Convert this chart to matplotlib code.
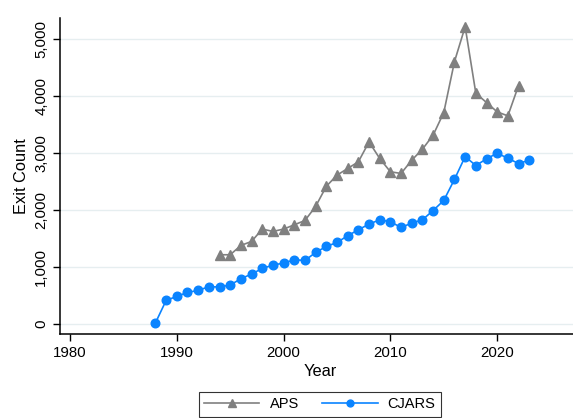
import matplotlib.pyplot as plt
from matplotlib.ticker import FuncFormatter

plt.rcParams['font.family'] = ['Liberation Sans', 'DejaVu Sans']

# CJARS exits per year
cjars_years = list(range(1988, 2024))
cjars_counts = [20, 415, 485, 555, 590, 655, 650, 685, 795, 878,
                975, 1035, 1070, 1128, 1116, 1257, 1362, 1432, 1550, 1655,
                1754, 1830, 1795, 1696, 1772, 1830, 1993, 2170, 2540, 2940,
                2783, 2900, 3000, 2910, 2818, 2877]

# APS exits per year
aps_years = list(range(1994, 2023))
aps_counts = [1216, 1216, 1380, 1450, 1667, 1626, 1667, 1742, 1818, 2065,
              2418, 2614, 2731, 2848, 3198, 2907, 2673, 2644, 2877, 3070,
              3316, 3714, 4607, 5221, 4053, 3889, 3725, 3655, 4187]

x_ticks = [1980, 1990, 2000, 2010, 2020]
y_ticks = [0, 1000, 2000, 3000, 4000, 5000]

fig = plt.figure(figsize=(5.73, 4.18), dpi=100)
ax = fig.add_axes([0.1047, 0.201, 0.8953, 0.756])

ax.plot(aps_years, aps_counts, color='#808080', lw=1.2, marker='^',
        markersize=7.5, label='APS')
ax.plot(cjars_years, cjars_counts, color='#0A84FF', lw=1.2, marker='o',
        markersize=6.2, label='CJARS')

ax.set_xlim(1979.06, 2027.1)
ax.set_ylim(-175, 5374)
ax.set_xticks(x_ticks)
ax.set_yticks(y_ticks)
ax.yaxis.set_major_formatter(FuncFormatter(lambda v, p: f'{int(v):,}'))
ax.tick_params(axis='both', labelsize=10.8, length=5, width=1, color='black')
plt.setp(ax.get_yticklabels(), rotation=90, va='center')

ax.grid(axis='y', color='#E6EEF0', lw=1)
ax.set_axisbelow(True)
for s in ['top', 'right']:
    ax.spines[s].set_visible(False)
for s in ['left', 'bottom']:
    ax.spines[s].set_linewidth(1.1)

ax.set_xlabel('Year', fontsize=11.8)
ax.xaxis.set_label_coords(0.507, -0.095)
ax.set_ylabel('Exit Count', fontsize=11.8, labelpad=4)

leg = fig.legend(loc='lower center', bbox_to_anchor=(0.558, 0.0), ncol=2,
                 frameon=True, fancybox=False, edgecolor='black', fontsize=10.5,
                 handlelength=3.8, handletextpad=0.7, columnspacing=1.6,
                 borderpad=0.35, borderaxespad=0.1, markerscale=0.8)
leg.get_frame().set_linewidth(0.8)

fig.savefig('out.png', dpi=100)
